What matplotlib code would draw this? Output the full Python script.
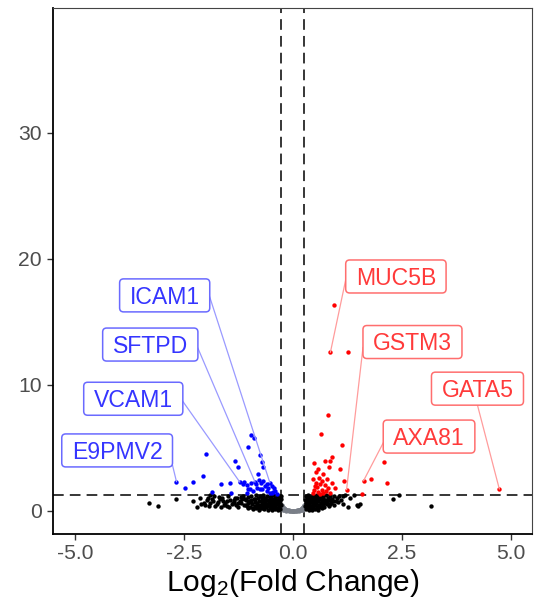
import matplotlib
matplotlib.use("Agg")
import matplotlib.pyplot as plt
from matplotlib.patches import FancyBboxPatch
from matplotlib.lines import Line2D
from matplotlib.transforms import IdentityTransform, offset_copy

plt.rcParams['font.family'] = ['Liberation Sans', 'DejaVu Sans']
plt.rcParams['mathtext.fontset'] = 'custom'
plt.rcParams['mathtext.rm'] = 'Liberation Sans'
plt.rcParams['mathtext.it'] = 'Liberation Sans'

# ---------------- data ----------------
gray_x = [-0.26, -0.25, -0.24, -0.23, -0.22, -0.21, -0.20, -0.19, -0.18, -0.17, -0.16, -0.15, -0.13, -0.11,
          -0.09, -0.07, -0.05, -0.03, -0.01, 0.01, 0.03, 0.05, 0.07, 0.09, 0.11, 0.13, 0.15, 0.16, 0.17,
          0.18, 0.19, 0.20, 0.21, 0.22, 0.23, 0.24, 0.25, 0.26,
          -0.24, -0.20, -0.15, -0.10, 0.00, 0.10, 0.15, 0.20, 0.24, -0.25, 0.25, -0.22, 0.22]
gray_y = [0.50, 0.42, 0.35, 0.30, 0.26, 0.22, 0.18, 0.15, 0.13, 0.11, 0.09, 0.08, 0.06, 0.05,
          0.04, 0.03, 0.03, 0.02, 0.02, 0.02, 0.02, 0.03, 0.03, 0.04, 0.05, 0.06, 0.08, 0.09, 0.11,
          0.13, 0.15, 0.18, 0.22, 0.26, 0.30, 0.35, 0.42, 0.50,
          0.15, 0.08, 0.03, 0.01, 0.00, 0.01, 0.03, 0.08, 0.15, 0.22, 0.22, 0.05, 0.05]

black_x = [-3.30, -3.10, -2.68, -2.29, -2.21, -2.13, -2.02, -1.94, -1.90, -1.90, -1.83, -1.80, -1.75, -1.70,
           -1.67, -1.64, -1.60, -1.56, -1.52, -1.48, -1.44, -1.40, -1.37, -1.33, -1.29, -1.25, -1.22,
           -1.18, -1.14, -1.10, -1.06, -1.03, -1.02,
           -0.98, -0.97, -0.95, -0.93, -0.91, -0.90, -0.88, -0.87, -0.85, -0.84, -0.82, -0.81, -0.79,
           -0.78, -0.77, -0.75, -0.74, -0.73, -0.71, -0.70, -0.69, -0.67, -0.66, -0.65, -0.63, -0.62,
           -0.61, -0.59, -0.58, -0.57, -0.56, -0.55, -0.53, -0.52, -0.51, -0.50, -0.49, -0.48, -0.47,
           -0.46, -0.45, -0.44, -0.43, -0.42, -0.41, -0.40, -0.39, -0.38, -0.37, -0.36, -0.35, -0.34,
           -0.33, -0.32, -0.31, -0.30, -0.29, -0.28, -0.27, -0.27,
           -0.96, -0.92, -0.86, -0.80, -0.76, -0.72, -0.68, -0.64, -0.60, -0.54, -0.50, -0.44, -0.40,
           -0.36, -0.32, -0.30, -1.00, -1.08, -1.16, -1.26, -1.35,
           -2.05, -1.98, -1.86, -1.78, -1.72, -1.62, -1.58, -1.50, -1.46, -1.35, -1.31, -1.20, -1.12,
           -1.08, -1.04, -2.10, -1.92,
           0.27, 0.28, 0.29, 0.30, 0.31, 0.32, 0.33, 0.34, 0.35, 0.36, 0.37, 0.38, 0.39, 0.40, 0.41,
           0.42, 0.43, 0.44, 0.45, 0.46, 0.47, 0.48, 0.49, 0.50, 0.51, 0.52, 0.53, 0.54, 0.55, 0.56,
           0.57, 0.58, 0.59, 0.60, 0.62, 0.63, 0.64, 0.65, 0.66, 0.67, 0.68, 0.70, 0.71, 0.72, 0.74,
           0.75, 0.77, 0.78, 0.80, 0.82, 0.84, 0.86, 0.88, 0.90, 0.93, 0.95, 0.98, 1.00, 1.03, 1.06,
           1.10, 1.15, 1.20,
           0.30, 0.34, 0.38, 0.42, 0.46, 0.50, 0.55, 0.60, 0.66, 0.72, 0.79, 0.85, 0.92,
           1.27, 1.41, 1.46, 1.50, 1.54, 2.30, 2.44, 3.17, 1.30, 1.15]
black_y = [0.61, 0.42, 0.93, 0.79, 0.34, 1.00, 0.48, 1.06, 0.66, 1.25, 0.79, 1.20, 0.53, 1.10,
           0.93, 0.34, 0.75, 0.66, 0.40, 1.15, 0.87, 0.55, 0.61, 1.05, 1.00, 0.34, 0.80,
           0.66, 1.20, 0.93, 0.40, 0.65, 1.10,
           0.30, 0.85, 1.18, 0.55, 0.12, 0.95, 0.40, 0.70, 1.25, 0.20, 0.60, 1.02, 0.35,
           0.80, 0.08, 1.15, 0.50, 0.25, 0.90, 0.65, 1.28, 0.15, 0.42, 1.05, 0.75, 0.30,
           0.55, 1.20, 0.10, 0.88, 0.45, 0.68, 0.22, 1.10, 0.95, 0.38, 0.60, 0.05, 0.80,
           1.27, 0.28, 0.50, 0.72, 1.00, 0.15, 0.40, 0.62, 0.90, 1.18, 0.25, 0.05, 0.55,
           0.78, 1.05, 0.35, 0.15, 0.65, 0.92, 0.45, 1.22,
           0.70, 0.25, 0.95, 0.45, 0.30, 1.05, 0.20, 0.55, 0.85, 0.40, 1.20, 0.95, 0.28,
           0.70, 0.55, 0.85, 0.80, 0.50, 0.95, 0.60, 0.85,
           0.62, 0.85, 0.95, 0.40, 0.70, 1.05, 0.50, 0.80, 0.28, 0.72, 0.45, 1.10, 0.50,
           0.85, 0.25, 0.55, 0.38,
           0.40, 0.85, 1.20, 0.15, 0.60, 1.00, 0.30, 0.75, 1.28, 0.05, 0.50, 0.92, 0.22, 1.10, 0.68,
           0.38, 0.10, 0.85, 1.22, 0.55, 0.28, 1.00, 0.72, 0.15, 0.45, 1.15, 0.88, 0.62, 0.30, 1.27,
           0.08, 0.78, 0.50, 1.05, 0.35, 0.95, 0.65, 1.20, 0.20, 0.80, 0.48, 1.10, 0.60, 0.30, 0.90,
           1.25, 0.55, 0.75, 1.00, 0.40, 0.85, 1.15, 0.65, 0.95, 0.50, 1.20, 0.80, 1.05, 0.70, 1.18,
           0.90, 1.20, 1.25,
           0.65, 0.45, 0.70, 0.95, 0.80, 0.60, 0.95, 0.45, 1.00, 0.85, 0.70, 0.55, 0.75,
           0.34, 1.27, 0.50, 0.38, 0.55, 0.98, 1.25, 0.42, 1.00, 0.55]

blue_x = [-2.67, -2.48, -2.29, -2.07, -2.00, -1.86, -1.66, -1.44, -1.41, -1.33, -1.27, -1.22, -1.15,
          -1.12, -1.06, -1.06, -1.04, -0.99, -0.95, -0.95, -0.91, -0.89, -0.87, -0.83, -0.80, -0.77,
          -0.76, -0.73, -0.72, -0.72, -0.68, -0.68, -0.64, -0.60, -0.57, -0.53, -0.49, -0.49, -0.44,
          -0.41, -0.37, -0.45, -0.53, -0.60, -0.76, -0.85, -1.03]
blue_y = [2.33, 1.85, 2.33, 2.75, 4.50, 1.50, 2.17, 2.25, 1.40, 4.00, 3.50, 2.30, 2.12,
          2.33, 2.06, 1.45, 5.10, 1.72, 6.00, 2.25, 1.59, 5.80, 2.30, 1.85, 2.96, 2.44,
          4.40, 2.25, 3.90, 1.72, 3.50, 2.38, 1.98, 2.17, 1.80, 2.25, 1.98, 1.45, 1.80,
          1.59, 1.37, 1.53, 1.45, 1.59, 1.72, 2.10, 1.72]

red_x = [0.93, 0.86, 1.27, 0.80, 0.65, 1.12, 2.09, 1.62, 1.78, 2.16, 1.23, 1.58, 4.73,
         0.49, 0.73, 0.90, 0.85, 0.83, 0.54, 1.09, 0.60, 0.47, 0.67, 0.77, 0.53, 0.62, 0.73,
         0.89, 0.96, 1.17, 0.49, 0.66, 0.81, 0.58, 0.70, 0.45, 0.55, 0.62, 0.75, 0.86, 0.50,
         0.68, 0.58]
red_y = [16.3, 12.6, 12.6, 7.6, 6.1, 5.2, 3.9, 2.4, 2.5, 2.25, 1.7, 1.37, 1.75,
         3.8, 4.0, 4.3, 4.0, 3.5, 3.1, 3.3, 2.6, 2.5, 2.4, 2.5, 2.2, 2.1, 2.06,
         2.25, 1.85, 2.4, 1.7, 1.7, 1.8, 1.5, 1.45, 1.4, 1.9, 1.35, 1.6, 1.45, 2.0,
         2.9, 3.3]

gene_names = ["ICAM1", "SFTPD", "VCAM1", "E9PMV2", "MUC5B", "GSTM3", "GATA5", "AXA81"]
gene_x = [-0.53, -0.87, -1.22, -2.67, 0.86, 1.23, 4.73, 1.62]
gene_y = [2.25, 2.30, 2.30, 2.33, 12.6, 1.70, 1.75, 2.40]
gene_dir = ["down", "down", "down", "down", "up", "up", "up", "up"]

fc_cut = 0.263
p_cut = 1.301

x_ticks = [-5.0, -2.5, 0.0, 2.5, 5.0]
x_ticklabels = ["-5.0", "-2.5", "0.0", "2.5", "5.0"]
y_ticks = [0, 10, 20, 30]
y_ticklabels = ["0", "10", "20", "30"]

# ---------------- layout ----------------
label_pos = {  # label box centres (data coords) and segment anchor on box (fx, fy)
    "ICAM1": (-2.94, 17.1, 1.0, 0.45),
    "SFTPD": (-3.27, 13.2, 1.0, 0.39),
    "VCAM1": (-3.66, 8.9, 1.0, 0.42),
    "E9PMV2": (-4.03, 4.8, 1.0, 0.05),
    "MUC5B": (2.36, 18.6, 0.0, 0.40),
    "GSTM3": (2.74, 13.4, 0.0, 0.33),
    "GATA5": (4.23, 9.7, 0.5, 0.0),
    "AXA81": (3.12, 5.9, 0.0, 0.31),
}
style = {
    "down": dict(text="#3535FF", edge="#6A6AFF", seg="#9A9AFF"),
    "up": dict(text="#FF3A3A", edge="#FF6E6E", seg="#FF9C9C"),
}

W, H = 545, 606
fig = plt.figure(figsize=(W / 100, H / 100), dpi=100)
ax = fig.add_axes([53 / W, (H - 534) / H, (532 - 53) / W, (534 - 8) / H])

ms = 10
ax.scatter(gray_x, gray_y, s=ms, c="#7A7F88", linewidths=0, zorder=2)
ax.scatter(black_x, black_y, s=ms, c="black", linewidths=0, zorder=3)
ax.scatter(blue_x, blue_y, s=ms, c="#0000FF", linewidths=0, zorder=4)
ax.scatter(red_x, red_y, s=ms, c="#FF0000", linewidths=0, zorder=4)

ax.axvline(-fc_cut, color="black", lw=1.1, dashes=(7, 4), zorder=1)
ax.axvline(fc_cut, color="black", lw=1.1, dashes=(7, 4), zorder=1)
ax.axhline(p_cut, color="black", lw=1.1, dashes=(7, 4), zorder=1)

ax.set_xlim(-5.5, 5.48)
ax.set_ylim(-1.83, 39.9)
ax.set_xticks(x_ticks)
ax.set_xticklabels(x_ticklabels)
ax.set_yticks(y_ticks)
ax.set_yticklabels(y_ticklabels)
ax.tick_params(axis="both", labelsize=15.2, labelcolor="#4D4D4D", color="#333333",
               length=4, width=1.0)
ax.tick_params(axis="x", pad=3)
ax.tick_params(axis="y", pad=4)
for side in ["left", "bottom"]:
    ax.spines[side].set_linewidth(1.3)
    ax.spines[side].set_color("black")
for side in ["top", "right"]:
    ax.spines[side].set_linewidth(0.8)
    ax.spines[side].set_color("#444444")
ax.set_xlabel("Log$_2$(Fold Change)", fontsize=21.5, color="black", labelpad=3)

# ---------------- labels ----------------
fig.canvas.draw()
renderer = fig.canvas.get_renderer()
fs = 16.6
cap = 0.716 * fs * 100 / 72
box_h = 33
pad_x = 10
for name, gx, gy, d in zip(gene_names, gene_x, gene_y, gene_dir):
    lx, ly, fx, fy = label_pos[name]
    st = style[d]
    cx, cy = ax.transData.transform((lx, ly))
    tr = offset_copy(ax.transData, fig=fig, x=0, y=-cap / 2, units="dots")
    t = ax.text(lx, ly, name, transform=tr, ha="center", va="baseline", fontsize=fs,
                color=st["text"], zorder=7, clip_on=False)
    tw = t.get_window_extent(renderer).width
    bw = tw + 2 * pad_x
    x0, y0 = cx - bw / 2, cy - box_h / 2
    box = FancyBboxPatch((x0, y0), bw, box_h, boxstyle="round,pad=0,rounding_size=4",
                         transform=IdentityTransform(), facecolor="white",
                         edgecolor=st["edge"], lw=1.1, zorder=6, clip_on=False)
    ax.add_artist(box)
    sx, sy = x0 + fx * bw, y0 + fy * box_h
    px, py = ax.transData.transform((gx, gy))
    seg = Line2D([sx, px], [sy, py], transform=IdentityTransform(), color=st["seg"],
                 lw=0.9, zorder=5, clip_on=False)
    ax.add_artist(seg)

fig.savefig("out.png", dpi=100)
